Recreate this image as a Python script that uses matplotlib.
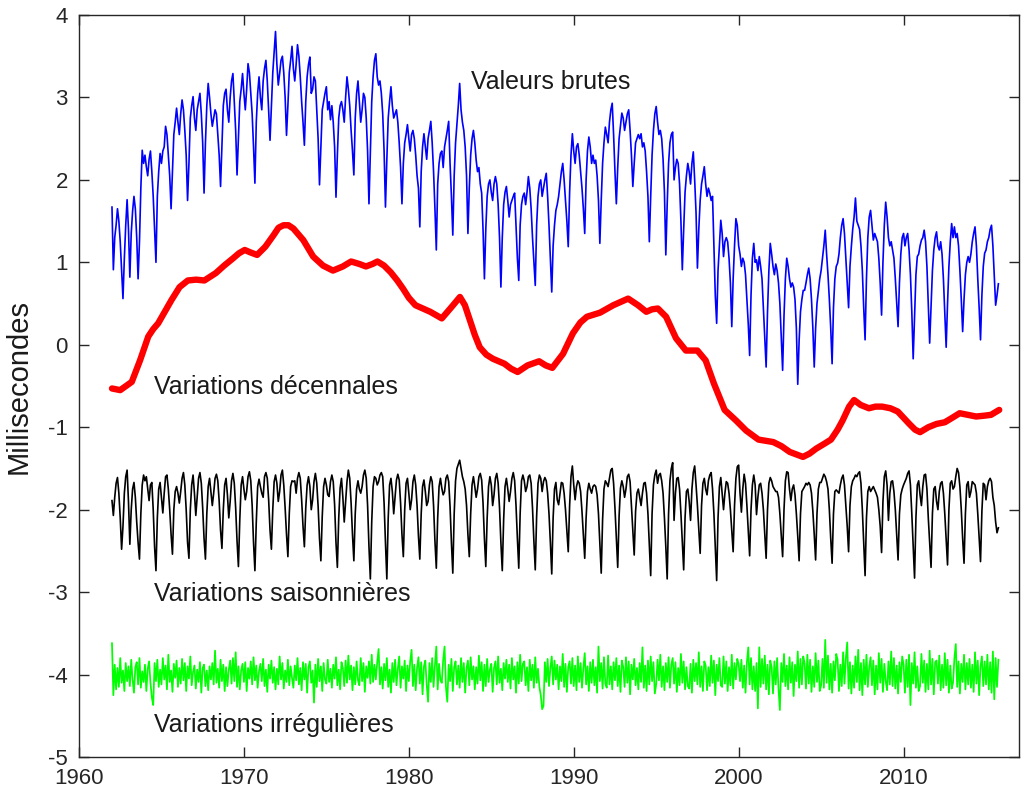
import numpy as np
import matplotlib
matplotlib.use("Agg")
import matplotlib.pyplot as plt

plt.rcParams['font.family'] = ['Liberation Sans', 'DejaVu Sans']

# ---------------- data ----------------
start_year = 1962.0
samples_per_year = 12

# raw length-of-day excess (ms), monthly samples from Jan 1962
raw_ms = [
    1.67, 0.91, 1.30, 1.45, 1.65, 1.50, 1.25, 0.90, 0.56, 1.05, 1.45, 1.76,
    1.40, 0.82, 1.35, 1.62, 1.80, 1.65, 1.30, 0.80, 1.25, 1.90, 2.36, 2.20,
    2.30, 2.16, 2.05, 2.25, 2.35, 2.10, 1.80, 1.40, 1.00, 1.80, 2.10, 2.32,
    2.20, 2.35, 2.40, 2.65, 2.55, 2.30, 2.05, 1.65, 2.10, 2.55, 2.70, 2.87,
    2.70, 2.55, 2.80, 2.97, 2.85, 2.60, 2.30, 1.75, 2.20, 2.75, 2.90, 3.01,
    2.75, 2.60, 2.85, 2.95, 3.05, 2.80, 2.45, 1.84, 2.45, 2.90, 3.17, 3.00,
    2.80, 2.65, 2.75, 2.85, 2.80, 2.55, 2.30, 1.92, 2.40, 2.90, 3.05, 3.10,
    2.85, 2.70, 3.00, 3.20, 3.29, 2.95, 2.60, 2.06, 2.50, 2.95, 3.10, 3.29,
    3.05, 2.85, 3.10, 3.41, 3.30, 3.05, 2.80, 2.40, 1.96, 2.70, 3.05, 3.25,
    3.00, 2.85, 3.20, 3.35, 3.45, 3.20, 2.85, 2.48, 2.90, 3.30, 3.55, 3.80,
    3.40, 3.15, 3.29, 3.45, 3.50, 3.30, 3.00, 2.54, 2.90, 3.30, 3.45, 3.62,
    3.35, 3.20, 3.40, 3.64, 3.50, 3.25, 2.95, 2.70, 2.42, 2.95, 3.25, 3.40,
    3.49, 3.05, 3.10, 3.25, 3.20, 2.85, 2.50, 1.94, 2.40, 2.85, 2.95, 3.05,
    3.13, 2.85, 2.95, 2.73, 2.90, 2.70, 2.40, 1.79, 2.30, 2.75, 2.90, 2.95,
    2.85, 2.70, 3.00, 3.25, 3.10, 2.90, 2.60, 2.35, 2.06, 2.75, 3.05, 3.20,
    2.95, 2.70, 2.85, 3.05, 3.00, 2.75, 2.35, 1.71, 2.35, 2.95, 3.25, 3.45,
    3.53, 3.25, 3.15, 3.20, 3.05, 2.80, 2.35, 1.67, 2.25, 2.75, 2.95, 3.13,
    2.90, 2.75, 2.80, 2.85, 2.70, 2.45, 2.15, 1.71, 2.20, 2.45, 2.55, 2.67,
    2.50, 2.35, 2.55, 2.60, 2.50, 2.30, 2.05, 1.90, 1.43, 2.10, 2.40, 2.56,
    2.40, 2.25, 2.50, 2.60, 2.71, 2.45, 2.10, 1.65, 1.15, 1.95, 2.20, 2.32,
    2.35, 2.15, 2.40, 2.50, 2.60, 2.71, 2.20, 1.80, 1.33, 2.05, 2.45, 2.67,
    2.90, 3.17, 2.85, 2.70, 2.60, 2.40, 2.05, 1.35, 1.90, 2.30, 2.50, 2.60,
    2.45, 2.24, 2.10, 2.15, 1.95, 1.84, 1.40, 0.80, 1.40, 1.80, 1.95, 2.00,
    1.85, 1.75, 1.95, 2.04, 1.95, 1.70, 1.30, 0.70, 1.30, 1.70, 1.85, 1.92,
    1.75, 1.55, 1.70, 1.75, 1.80, 1.84, 1.45, 1.05, 0.78, 1.45, 1.70, 1.80,
    1.84, 1.70, 1.85, 2.04, 1.90, 1.65, 1.30, 1.00, 0.72, 1.45, 1.80, 1.95,
    2.00, 1.80, 1.90, 2.00, 2.08, 1.80, 1.45, 1.05, 0.64, 1.20, 1.45, 1.63,
    1.70, 1.80, 1.95, 2.10, 2.20, 2.00, 1.75, 1.50, 1.19, 1.85, 2.30, 2.56,
    2.35, 2.20, 2.40, 2.44, 2.30, 2.10, 1.90, 1.65, 1.35, 2.00, 2.35, 2.52,
    2.40, 2.20, 2.30, 2.20, 2.24, 2.05, 1.75, 1.23, 1.75, 2.20, 2.45, 2.64,
    2.55, 2.45, 2.70, 2.85, 2.93, 2.55, 2.10, 1.71, 2.15, 2.50, 2.65, 2.81,
    2.75, 2.60, 2.70, 2.80, 2.85, 2.60, 2.30, 1.92, 2.20, 2.45, 2.50, 2.55,
    2.50, 2.56, 2.40, 2.45, 2.35, 2.10, 1.80, 1.25, 1.80, 2.30, 2.60, 2.80,
    2.89, 2.70, 2.55, 2.60, 2.50, 2.25, 1.85, 1.09, 1.70, 2.20, 2.45, 2.55,
    2.58, 2.00, 2.15, 2.25, 2.20, 1.95, 1.50, 0.91, 1.40, 1.85, 2.05, 2.20,
    2.10, 1.95, 2.20, 2.34, 2.00, 1.60, 0.93, 1.40, 1.75, 1.95, 2.05, 2.16,
    1.95, 1.80, 1.90, 1.84, 1.75, 1.80, 1.20, 0.60, 0.26, 0.90, 1.20, 1.51,
    1.35, 1.07, 1.25, 1.30, 1.25, 1.05, 0.75, 0.22, 0.80, 1.20, 1.53, 1.45,
    1.20, 1.10, 0.95, 1.05, 1.00, 0.85, 0.55, 0.25, -0.13, 0.60, 1.05, 1.23,
    1.00, 1.03, 0.90, 1.07, 0.95, 0.80, 0.45, 0.10, -0.27, 0.40, 0.90, 1.23,
    1.10, 0.95, 0.85, 0.98, 0.90, 0.75, 0.50, 0.10, -0.31, 0.35, 0.80, 1.05,
    0.95, 0.80, 0.70, 0.75, 0.70, 0.55, 0.20, -0.48, 0.05, 0.40, 0.55, 0.66,
    0.66, 0.75, 0.85, 0.93, 0.80, 0.55, 0.20, -0.27, 0.20, 0.50, 0.65, 0.80,
    0.90, 1.05, 1.20, 1.39, 1.10, 0.85, 0.55, 0.20, -0.23, 0.45, 0.80, 0.95,
    0.99, 1.10, 1.30, 1.45, 1.53, 1.35, 1.05, 0.75, 0.45, 0.95, 1.19, 1.40,
    1.55, 1.78, 1.50, 1.45, 1.40, 1.20, 0.90, 0.45, 0.06, 0.80, 1.30, 1.55,
    1.63, 1.45, 1.27, 1.35, 1.30, 1.25, 1.05, 0.75, 0.36, 1.00, 1.45, 1.73,
    1.55, 1.30, 1.20, 1.25, 1.15, 1.05, 0.80, 0.50, 0.22, 0.75, 1.10, 1.30,
    1.35, 1.20, 1.30, 1.35, 1.15, 0.85, 0.40, -0.17, 0.35, 0.85, 1.07, 1.10,
    1.20, 1.27, 1.30, 1.39, 1.25, 0.95, 0.50, 0.02, 0.45, 0.90, 1.15, 1.30,
    1.37, 1.20, 1.15, 1.25, 1.10, 0.80, 0.40, -0.03, 0.50, 0.95, 1.25, 1.47,
    1.30, 1.43, 1.30, 1.35, 1.20, 0.90, 0.55, 0.16, 0.55, 0.85, 1.00, 1.07,
    1.00, 1.10, 1.25, 1.35, 1.43, 1.20, 0.80, 0.45, 0.06, 0.60, 0.95, 1.11,
    1.15, 1.25, 1.30, 1.40, 1.45, 1.20, 0.85, 0.48, 0.60, 0.74,
]

# decadal component (ms), read at irregular dates
decadal_years = [
    1962.0, 1962.5, 1963.2, 1963.7, 1964.2, 1964.5, 1964.8, 1965.2, 1965.6, 1966.1,
    1966.6, 1967.1, 1967.6, 1968.3, 1968.8, 1969.35, 1969.7, 1970.05, 1970.4, 1970.8,
    1971.3, 1971.8, 1972.1, 1972.4, 1972.7, 1973.0, 1973.6, 1974.2, 1974.8, 1975.4,
    1976.0, 1976.5, 1977.0, 1977.4, 1977.8, 1978.1, 1978.5, 1978.9, 1979.3, 1979.65,
    1980.0, 1980.4, 1981.3, 1982.0, 1982.6, 1983.1, 1983.4, 1983.7, 1984.0, 1984.3,
    1984.7, 1985.1, 1985.8, 1986.2, 1986.6, 1987.2, 1987.9, 1988.3, 1988.7, 1989.35,
    1989.95, 1990.4, 1990.8, 1991.6, 1992.4, 1993.3, 1993.9, 1994.4, 1994.75, 1995.1,
    1995.6, 1996.2, 1996.8, 1997.5, 1998.0, 1998.5, 1999.15, 1999.85, 2000.45, 2001.2,
    2002.1, 2002.6, 2003.1, 2003.9, 2004.3, 2004.7, 2005.2, 2005.6, 2006.0, 2006.3,
    2006.7, 2007.0, 2007.4, 2007.9, 2008.3, 2008.7, 2009.2, 2009.65, 2010.35, 2010.7,
    2011.0, 2011.5, 2012.0, 2012.5, 2013.0, 2013.4, 2013.9, 2014.4, 2014.9, 2015.3,
    2015.8,
]
decadal_ms = [
    -0.53, -0.55, -0.45, -0.19, 0.10, 0.19, 0.26, 0.40, 0.54, 0.70,
    0.78, 0.79, 0.78, 0.87, 0.96, 1.05, 1.11, 1.15, 1.12, 1.09,
    1.19, 1.33, 1.42, 1.45, 1.45, 1.41, 1.27, 1.07, 0.96, 0.90,
    0.95, 1.01, 0.98, 0.95, 0.98, 1.01, 0.96, 0.88, 0.78, 0.68,
    0.57, 0.48, 0.40, 0.32, 0.46, 0.58, 0.48, 0.30, 0.12, -0.03,
    -0.12, -0.17, -0.23, -0.29, -0.33, -0.25, -0.20, -0.25, -0.28, -0.11,
    0.14, 0.27, 0.34, 0.39, 0.48, 0.56, 0.48, 0.40, 0.43, 0.44,
    0.34, 0.08, -0.07, -0.07, -0.19, -0.47, -0.79, -0.92, -1.04, -1.15,
    -1.18, -1.23, -1.30, -1.36, -1.32, -1.26, -1.20, -1.15, -1.03, -0.92,
    -0.75, -0.67, -0.73, -0.77, -0.75, -0.75, -0.77, -0.81, -0.96, -1.03,
    -1.06, -1.00, -0.96, -0.94, -0.88, -0.83, -0.85, -0.87, -0.86, -0.85,
    -0.79,
]

# seasonal component as plotted (ms, shown around -2), monthly samples
seasonal_ms = [
    -1.89, -2.07, -1.85, -1.68, -1.61, -1.80, -2.10, -2.48, -2.20, -1.80, -1.60, -1.52,
    -1.90, -2.42, -2.00, -1.75, -1.67, -1.85, -2.15, -2.40, -2.60, -2.05, -1.70, -1.58,
    -1.65, -1.60, -1.75, -1.89, -1.70, -1.67, -2.00, -2.45, -2.74, -2.10, -1.75, -1.67,
    -1.85, -2.04, -1.80, -1.60, -1.58, -1.75, -2.00, -2.30, -2.54, -2.00, -1.78, -1.72,
    -1.80, -1.92, -1.78, -1.62, -1.55, -1.70, -2.00, -2.40, -2.59, -2.00, -1.70, -1.58,
    -1.80, -2.07, -1.85, -1.62, -1.55, -1.68, -1.98, -2.35, -2.60, -2.05, -1.72, -1.62,
    -1.78, -1.95, -1.80, -1.62, -1.57, -1.65, -1.90, -2.25, -2.47, -2.00, -1.70, -1.62,
    -1.82, -2.10, -1.90, -1.65, -1.56, -1.68, -1.98, -2.38, -2.69, -2.12, -1.70, -1.60,
    -1.75, -1.88, -1.78, -1.60, -1.54, -1.65, -1.95, -2.40, -2.74, -2.15, -1.72, -1.63,
    -1.72, -1.80, -1.85, -1.60, -1.55, -1.62, -1.88, -2.25, -2.48, -2.00, -1.66, -1.58,
    -1.68, -1.90, -1.78, -1.58, -1.52, -1.70, -1.98, -2.30, -2.57, -2.05, -1.72, -1.65,
    -1.66, -1.65, -1.80, -1.62, -1.55, -1.62, -1.88, -2.20, -2.45, -1.98, -1.70, -1.60,
    -1.72, -2.00, -1.88, -1.66, -1.56, -1.68, -1.96, -2.35, -2.62, -2.08, -1.72, -1.62,
    -1.70, -1.82, -1.84, -1.66, -1.58, -1.66, -1.94, -2.40, -2.70, -2.10, -1.74, -1.62,
    -1.85, -2.15, -1.90, -1.66, -1.52, -1.62, -1.92, -2.30, -2.62, -2.05, -1.75, -1.65,
    -1.75, -1.80, -1.72, -1.58, -1.52, -1.62, -1.95, -2.45, -2.84, -2.15, -1.72, -1.60,
    -1.62, -1.70, -1.66, -1.58, -1.55, -1.60, -1.92, -2.40, -2.84, -2.10, -1.70, -1.62,
    -1.78, -2.05, -1.85, -1.64, -1.57, -1.64, -1.92, -2.30, -2.57, -2.00, -1.68, -1.62,
    -1.80, -2.00, -1.88, -1.66, -1.58, -1.70, -1.95, -2.32, -2.60, -2.05, -1.72, -1.64,
    -1.78, -1.95, -1.90, -1.70, -1.60, -1.66, -1.95, -2.38, -2.71, -2.10, -1.72, -1.62,
    -1.74, -1.82, -1.78, -1.62, -1.58, -1.66, -1.96, -2.40, -2.77, -2.05, -1.65, -1.50,
    -1.45, -1.40, -1.50, -1.60, -1.66, -1.75, -1.95, -2.30, -2.57, -2.05, -1.70, -1.60,
    -1.72, -1.85, -1.75, -1.60, -1.56, -1.64, -1.92, -2.35, -2.69, -2.10, -1.72, -1.60,
    -1.70, -1.95, -1.82, -1.62, -1.56, -1.68, -1.98, -2.40, -2.74, -2.12, -1.72, -1.62,
    -1.75, -1.90, -1.78, -1.62, -1.55, -1.65, -1.95, -2.35, -2.71, -2.05, -1.65, -1.58,
    -1.65, -1.78, -1.72, -1.60, -1.58, -1.68, -1.98, -2.38, -2.73, -2.08, -1.68, -1.58,
    -1.62, -1.78, -1.66, -1.61, -1.65, -1.80, -2.05, -2.40, -2.78, -2.10, -1.75, -1.67,
    -1.88, -1.94, -1.80, -1.67, -1.68, -1.80, -2.00, -2.25, -2.51, -1.95, -1.60, -1.47,
    -1.70, -1.88, -1.72, -1.65, -1.68, -1.78, -2.02, -2.30, -2.59, -2.10, -1.78, -1.68,
    -1.75, -1.80, -1.72, -1.70, -1.72, -1.82, -2.05, -2.40, -2.77, -2.12, -1.75, -1.65,
    -1.68, -1.72, -1.62, -1.52, -1.50, -1.68, -1.98, -2.35, -2.70, -2.08, -1.74, -1.65,
    -1.72, -1.85, -1.75, -1.60, -1.57, -1.66, -1.95, -2.25, -2.55, -2.02, -1.80, -1.75,
    -1.85, -1.95, -1.80, -1.68, -1.67, -1.80, -2.05, -2.42, -2.80, -2.05, -1.70, -1.58,
    -1.52, -1.68, -1.58, -1.56, -1.65, -1.80, -2.10, -2.45, -2.84, -2.05, -1.65, -1.50,
    -1.43, -2.13, -1.80, -1.62, -1.61, -1.75, -2.05, -2.40, -2.73, -2.10, -1.78, -1.75,
    -1.90, -2.13, -1.75, -1.55, -1.47, -1.70, -1.95, -2.25, -2.53, -1.95, -1.68, -1.62,
    -1.75, -1.82, -1.65, -1.58, -1.55, -1.75, -2.05, -2.45, -2.86, -2.10, -1.72, -1.61,
    -1.80, -2.00, -1.80, -1.66, -1.68, -1.80, -2.00, -2.25, -2.51, -1.95, -1.62, -1.48,
    -1.46, -1.80, -2.03, -1.75, -1.57, -1.68, -1.95, -2.25, -2.56, -2.00, -1.70, -1.58,
    -1.70, -2.06, -1.85, -1.70, -1.68, -1.80, -2.00, -2.30, -2.59, -2.00, -1.68, -1.61,
    -1.65, -1.72, -1.75, -1.78, -1.78, -1.85, -2.05, -2.30, -2.57, -2.00, -1.65, -1.54,
    -1.55, -1.75, -1.89, -1.75, -1.70, -1.82, -2.05, -2.32, -2.62, -2.05, -1.78, -1.75,
    -1.72, -1.68, -1.70, -1.67, -1.70, -1.80, -2.02, -2.30, -2.61, -2.05, -1.75, -1.67,
    -1.67, -1.62, -1.57, -1.60, -1.66, -1.75, -2.00, -2.35, -2.65, -2.05, -1.78, -1.76,
    -1.78, -1.80, -1.70, -1.62, -1.58, -1.70, -1.95, -2.20, -2.51, -1.95, -1.72, -1.65,
    -1.62, -1.58, -1.60, -1.56, -1.54, -1.68, -2.00, -2.40, -2.80, -2.10, -1.78, -1.72,
    -1.78, -1.75, -1.72, -1.76, -1.80, -1.85, -2.00, -2.20, -2.52, -1.90, -1.60, -1.53,
    -1.70, -2.13, -1.80, -1.66, -1.65, -1.78, -2.00, -2.30, -2.61, -2.05, -1.82, -1.75,
    -1.70, -1.66, -1.62, -1.56, -1.53, -1.70, -2.05, -2.45, -2.83, -2.10, -1.70, -1.65,
    -1.82, -1.95, -1.72, -1.58, -1.57, -1.75, -2.10, -2.40, -2.70, -2.05, -1.75, -1.72,
    -1.90, -2.00, -1.78, -1.68, -1.66, -1.80, -2.05, -2.35, -2.67, -2.00, -1.68, -1.65,
    -1.75, -1.72, -1.60, -1.50, -1.55, -1.72, -2.00, -2.35, -2.65, -2.05, -1.70, -1.66,
    -1.85, -1.78, -1.66, -1.68, -1.70, -1.80, -2.05, -2.35, -2.63, -2.02, -1.68, -1.70,
    -1.88, -1.72, -1.65, -1.62, -1.66, -1.85, -1.95, -2.15, -2.28, -2.22,
]

# irregular component (hundredths of ms), monthly samples
irregular_cms = [
    38, -25, 12, -18, 8, -15, 20, -10, 5, -20, 14, -8,
    10, -14, 18, -6, -22, 9, 15, -12, 20, -16, 4, -9,
    12, -20, 7, 16, -10, -28, -37, 14, -8, 18, -15, 6,
    -12, 20, -6, 11, -18, 24, -9, 5, -21, 13, -4, 17,
    -15, 8, -11, 19, -7, 14, -20, 10, -5, 22, -13, 3,
    11, -17, 6, -9, 15, -22, 8, 12, -14, 5, -19, 10,
    -6, 14, -12, 29, -10, 7, -16, 18, -8, 12, -20, 9,
    -14, 6, 17, -11, 20, -8, 27, -15, 10, -18, 5, 13,
    -9, 15, -20, 8, -5, 16, -12, 21, -7, 11, -16, 4,
    13, -8, 19, -14, 6, -21, 12, -5, 17, -10, 9, -18,
    7, -12, 22, -6, 14, -17, 5, -9, 18, -13, 10, -4,
    -16, 11, -7, 20, -12, 8, -19, 15, -6, 13, -22, 9,
    16, -10, 5, -34, 12, -15, 19, -8, 10, -20, 14, -6,
    -11, 18, -9, 7, -16, 12, -5, 21, -13, 6, -18, 15,
    8, -14, 17, -10, 23, -6, 11, -19, 9, -12, 16, -7,
    -13, 20, -8, 14, -21, 10, -4, 16, -11, 24, -9, 12,
    -6, 15, 31, -12, 9, -17, 13, -7, 20, -15, 6, -22,
    14, -9, 18, -13, 7, 22, -16, 10, -5, 17, -20, 11,
    -8, 16, 30, -14, 12, -19, 8, 21, -11, 15, -24, 10,
    17, -12, -33, 14, -9, 20, -15, 11, 34, -18, 13, -7,
    -10, 18, 34, -15, -33, 12, -8, 19, -20, 9, 16, -12,
    11, -16, 20, -9, 14, -22, 8, 17, -13, 21, -6, 10,
    -18, 9, -11, 23, -7, 15, -20, 12, -14, 19, -9, 6,
    13, -21, 8, 16, -12, 22, -10, 7, -19, 14, -5, 18,
    -9, 12, -17, 20, -6, 10, -22, 15, -11, 24, -8, 13,
    16, -13, 9, -20, 18, -7, 12, -16, 21, -10, 7, -15,
    -25, -42, -38, 15, -9, 19, -14, 8, 22, -12, 17, -6,
    12, -18, 10, -8, 25, -15, 13, -21, 9, 16, -11, 20,
    -14, 11, -19, 22, -9, 14, -16, 8, 26, -12, 10, -20,
    15, -10, 18, -13, 9, -22, 34, -8, 14, -17, 21, -11,
    -16, 23, -12, 10, -18, 15, -7, 20, -14, 11, -21, 17,
    9, -15, 21, -10, 16, -24, 12, -6, 19, -13, 8, -18,
    14, -9, 33, -16, 11, -20, 17, -12, 22, -8, 15, -23,
    -12, 18, -7, 24, -15, 10, -19, 14, -9, 21, -16, 12,
    20, -11, 15, -21, 8, -13, 25, -10, 16, -18, 9, -14,
    -17, 13, -22, 18, -8, 14, -12, 27, -15, 10, -20, 16,
    11, -19, 9, -14, 23, -10, 17, -25, 12, -8, 20, -13,
    -15, 22, -11, 16, -20, 9, -13, 24, -17, 14, -6, 19,
    13, -8, 18, -16, 11, -22, 15, 33, -12, 20, -18, 10,
    -20, 14, -41, 33, -15, 19, -11, 23, -18, 12, -24, 17,
    9, -23, 16, -12, 20, -17, -43, 14, -9, 25, -14, 11,
    -18, 21, -10, 15, -26, 12, -8, 28, -16, 19, -12, 22,
    14, -17, 24, -11, 18, -21, 10, -15, 26, -9, 17, -20,
    -13, 19, -16, 42, -10, 23, -18, 13, -22, 16, -7, 25,
    18, -20, 12, -14, 27, -11, 20, 39, -17, 15, -23, 11,
    -16, 22, -9, 30, -19, 14, -25, 18, -12, 24, -15, 9,
    21, -13, 17, -24, 11, -18, 26, -10, 19, -21, 13, -8,
    -19, 16, -12, 28, -14, 20, -17, 11, -23, 15, -9, 22,
    12, -22, 18, -15, 24, -37, 14, -11, 27, -16, 10, -20,
    -14, 25, -10, 17, -21, 13, -18, 29, -12, 19, -24, 15,
    17, -11, 23, -19, 12, -16, 26, -13, 18, -22, 11, -17,
    -10, 20, 37, -15, 16, -23, 13, -9, 24, -18, 14, -12,
    19, -16, 12, -21, 27, -11, 17, -25, 10, 22, -14, 16,
    -12, 24, -18, 15, -22, 28, -30, 20, -15, 18,
]
irregular_offset = -4.0   # display offset of the irregular curve

labels = ["Valeurs brutes", "Variations décennales",
          "Variations saisonnières", "Variations irrégulières"]
label_x = [1983.8, 1964.55, 1964.55, 1964.55]
label_y = [3.10, -0.60, -3.11, -4.70]

x_ticks = [1960, 1970, 1980, 1990, 2000, 2010]
y_ticks = [-5, -4, -3, -2, -1, 0, 1, 2, 3, 4]

# ---------------- plot ----------------
t_raw = start_year + np.arange(len(raw_ms)) / samples_per_year
t_seas = start_year + np.arange(len(seasonal_ms)) / samples_per_year
t_irr = start_year + np.arange(len(irregular_cms)) / samples_per_year

W, H = 1021, 796
fig = plt.figure(figsize=(W / 100, H / 100), dpi=100)
ax = fig.add_axes([79 / W, 39 / H, 940 / W, 742 / H])

ax.plot(t_raw, raw_ms, color=(0, 0, 1), lw=1.2)
ax.plot(decadal_years, decadal_ms, color=(1, 0, 0), lw=4.6,
        solid_capstyle='round', solid_joinstyle='round')
ax.plot(t_seas, seasonal_ms, color='black', lw=1.2)
ax.plot(t_irr, irregular_offset + np.array(irregular_cms) / 100.0,
        color=(0, 1, 0), lw=1.25)

for s, x, y in zip(labels, label_x, label_y):
    ax.text(x, y, s, fontsize=18, ha='left', va='baseline', color='#1a1a1a')

ax.set_xlim(1960, 2017)
ax.set_ylim(-5, 4)
ax.set_xticks(x_ticks)
ax.set_yticks(y_ticks)
ax.set_xticklabels([str(v) for v in x_ticks])
ax.set_yticklabels([str(v) for v in y_ticks])

axcol = '#262626'
for sp in ax.spines.values():
    sp.set_color(axcol)
    sp.set_linewidth(1.0)
ax.tick_params(direction='in', length=7, width=1.0, colors=axcol,
               labelsize=16, top=True, right=True)
ax.tick_params(axis='x', pad=8)
ax.tick_params(axis='y', pad=8)

ax.set_ylabel("Millisecondes", fontsize=21, color='#1a1a1a', va='center')
ax.yaxis.set_label_coords(-0.064, 0.5)

fig.savefig("out.png", dpi=100)
